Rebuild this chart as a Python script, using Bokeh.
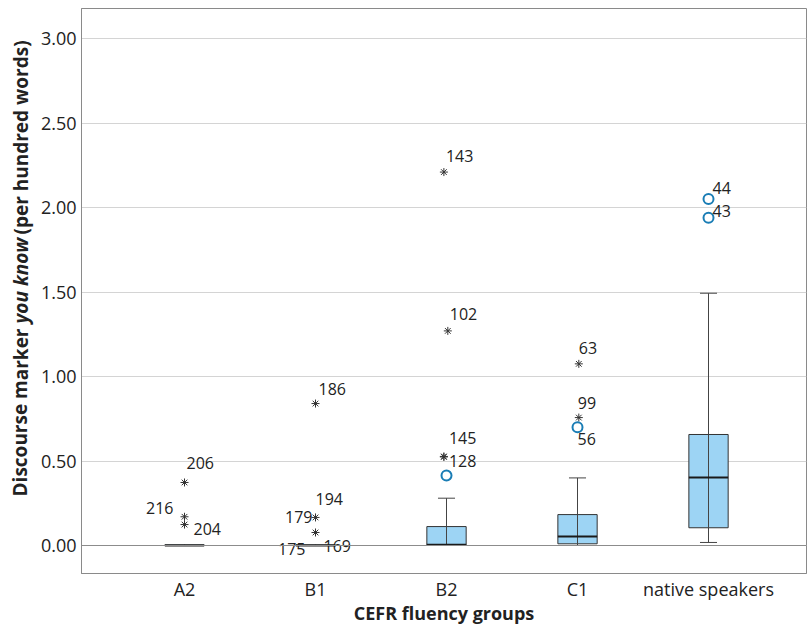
from bokeh.plotting import figure
from bokeh.layouts import row
from bokeh.models import (ColumnDataSource, FixedTicker, NumeralTickFormatter, Span, Label, Range1d)
from bokeh.core.properties import value
from bokeh.embed import file_html
from bokeh.resources import INLINE

# ---------------- data ----------------
groups = ["A2", "B1", "B2", "C1", "native speakers"]
q1 = [0.0, 0.0, 0.0, 0.01, 0.105]
median = [0.0, 0.0, 0.005, 0.053, 0.402]
q3 = [0.004, 0.004, 0.112, 0.183, 0.657]
whisker_low = [0.0, 0.0, 0.0, 0.0, 0.018]
whisker_high = [0.0, 0.0, 0.28, 0.40, 1.493]

# extreme outliers (asterisks)
ext_group = ["A2", "A2", "A2", "B1", "B1", "B1", "B2", "B2", "B2", "B2", "C1", "C1"]
ext_value = [0.373, 0.17, 0.124, 0.84, 0.166, 0.077, 2.21, 1.27, 0.527, 0.524, 1.075, 0.757]
ext_id = ["206", "216", "204", "186", "179", "194", "143", "102", "145", "128", "63", "99"]

# outliers hidden behind the median line (labels only)
hid_group = ["B1", "B1"]
hid_value = [0.0, 0.0]
hid_id = ["175", "169"]

# mild outliers (circles)
out_group = ["B2", "C1", "native speakers", "native speakers"]
out_value = [0.414, 0.70, 2.05, 1.94]
out_id = ["", "56", "44", "43"]

y_ticks = [0.0, 0.5, 1.0, 1.5, 2.0, 2.5, 3.0]
y_title_parts = ["Discourse marker", "you know", "(per hundred words)"]
x_title = "CEFR fluency groups"

# ---------------- layout helpers (positions / styles) ----------------
ext_dx = [2, -11, 9, 3, -3, 0, 2, 2, 5, 5, 0, -1]
ext_dy = [-19, -9, 4, -15, 0, -33, -16, -17, -18, 4, -16, -15]
ext_align = ["left", "right", "left", "left", "right", "left", "left", "left", "left", "left", "left", "left"]
ext_xshift = [0, 0, 0, 0, 0, 0, -0.02, 0.01, -0.02, -0.02, 0.01, 0.01]
hid_dx = [-10, 8]
hid_dy = [3, 0]
hid_align = ["right", "left"]
out_dx = [0, 0, 4, 4]
out_dy = [0, 12, -11, -7]

pos = {g: i + 1 for i, g in enumerate(groups)}
FONT = "Open Sans"
TXT = "#222222"
H = 630
LW = 36          # width of the strip holding the y-axis title
W = 807 - LW

# ---------------- y-axis title strip ----------------
pt = figure(width=LW, height=H, output_backend="svg", toolbar_location=None,
            x_axis_location=None, y_axis_location=None, min_border=0,
            x_range=Range1d(0, 1), y_range=Range1d(0, 1))
pt.outline_line_color = None
pt.grid.visible = False
common = dict(x=20, x_units="screen", y_units="screen", angle=1.5707963,
              text_font=FONT, text_font_size="19px", text_color=TXT, text_baseline="middle")
pt.add_layout(Label(text=y_title_parts[0], y=245, text_align="right", text_font_style="bold", **common))
pt.add_layout(Label(text=y_title_parts[1], y=250, text_align="left", text_font_style="bold italic", **common))
pt.add_layout(Label(text=y_title_parts[2], y=339, text_align="left", text_font_style="bold", **common))

# ---------------- main plot ----------------
p = figure(width=W, height=H, output_backend="svg", toolbar_location=None,
           x_range=Range1d(0.2137, 5.748), y_range=Range1d(-0.1657, 3.178),
           min_border_left=45, min_border_top=8, min_border_bottom=57, min_border_right=1)

p.background_fill_color = "white"
p.border_fill_color = "white"
p.outline_line_color = "#8a8a8a"
p.outline_line_width = 1

p.xgrid.visible = False
p.ygrid.grid_line_color = "#d4d4d4"
p.ygrid.grid_line_width = 1
p.yaxis.ticker = FixedTicker(ticks=y_ticks)
p.yaxis.formatter = NumeralTickFormatter(format="0.00")
p.xaxis.ticker = FixedTicker(ticks=[pos[g] for g in groups])
p.xaxis.major_label_overrides = {pos[g]: g for g in groups}

for ax in (p.xaxis[0], p.yaxis[0]):
    ax.major_tick_line_color = None
    ax.minor_tick_line_color = None
    ax.major_tick_out = 0
    ax.major_tick_in = 0
    ax.minor_tick_out = 0
    ax.axis_line_color = "#8a8a8a"
    ax.major_label_text_font = FONT
    ax.major_label_text_font_size = "18px"
    ax.major_label_text_color = TXT
p.yaxis.major_label_standoff = 5
p.xaxis.major_label_standoff = 3
p.xaxis.axis_label = x_title
p.xaxis.axis_label_text_font = FONT
p.xaxis.axis_label_text_font_size = "18px"
p.xaxis.axis_label_text_font_style = "bold"
p.xaxis.axis_label_text_color = TXT
p.xaxis.axis_label_standoff = -3

p.add_layout(Span(location=0, dimension="width", line_color="#8c8c8c", line_width=1))

# ---------------- boxes ----------------
xs = [pos[g] for g in groups]
bw = 0.30
box = ColumnDataSource(dict(x=xs, q1=q1, q3=q3, med=median, lo=whisker_low, hi=whisker_high))
p.segment(x0="x", y0="q3", x1="x", y1="hi", source=box, line_color="#444444", line_width=1)
p.segment(x0="x", y0="lo", x1="x", y1="q1", source=box, line_color="#444444", line_width=1)
p.vbar(x="x", width=bw, bottom="q1", top="q3", source=box, fill_color="#9dd4f4",
       line_color="#333333", line_width=1)
p.segment(x0="x", y0="q1", x1="x", y1="q3", source=box, line_color="#444444", line_width=1)
cap = 0.065
cap_src = ColumnDataSource(dict(x0=[x - cap for x in xs], x1=[x + cap for x in xs],
                                lo=whisker_low, hi=whisker_high))
p.segment(x0="x0", y0="hi", x1="x1", y1="hi", source=cap_src, line_color="#444444", line_width=1)
p.segment(x0="x0", y0="lo", x1="x1", y1="lo", source=cap_src, line_color="#444444", line_width=1)
med_src = ColumnDataSource(dict(x0=[x - bw / 2 for x in xs], x1=[x + bw / 2 for x in xs], m=median))
p.segment(x0="x0", y0="m", x1="x1", y1="m", source=med_src, line_color="#1a1a1a", line_width=2)

# ---------------- outliers ----------------
ext_src = ColumnDataSource(dict(x=[pos[g] + s for g, s in zip(ext_group, ext_xshift)], y=ext_value,
                                t=ext_id, dx=ext_dx, dy=ext_dy, al=ext_align))
p.scatter(x="x", y="y", source=ext_src, marker="asterisk", size=8, line_color="#333333", line_width=1)
p.text(x="x", y="y", text="t", source=ext_src, x_offset="dx", y_offset="dy", text_align="al",
       text_baseline="middle", text_font=value(FONT), text_font_size="16px", text_color=TXT)

hid_src = ColumnDataSource(dict(x=[pos[g] for g in hid_group], y=hid_value, t=hid_id,
                                dx=hid_dx, dy=hid_dy, al=hid_align))
p.text(x="x", y="y", text="t", source=hid_src, x_offset="dx", y_offset="dy", text_align="al",
       text_baseline="middle", text_font=value(FONT), text_font_size="16px", text_color=TXT)

out_src = ColumnDataSource(dict(x=[pos[g] for g in out_group], y=out_value, t=out_id,
                                dx=out_dx, dy=out_dy))
p.scatter(x="x", y="y", source=out_src, marker="circle", size=10, fill_color="white",
          line_color="#1a7db5", line_width=2)
p.text(x="x", y="y", text="t", source=out_src, x_offset="dx", y_offset="dy", text_align="left",
       text_baseline="middle", text_font=value(FONT), text_font_size="16px", text_color=TXT)

layout = row(pt, p)
open("out.html", "w").write(file_html(layout, INLINE))
